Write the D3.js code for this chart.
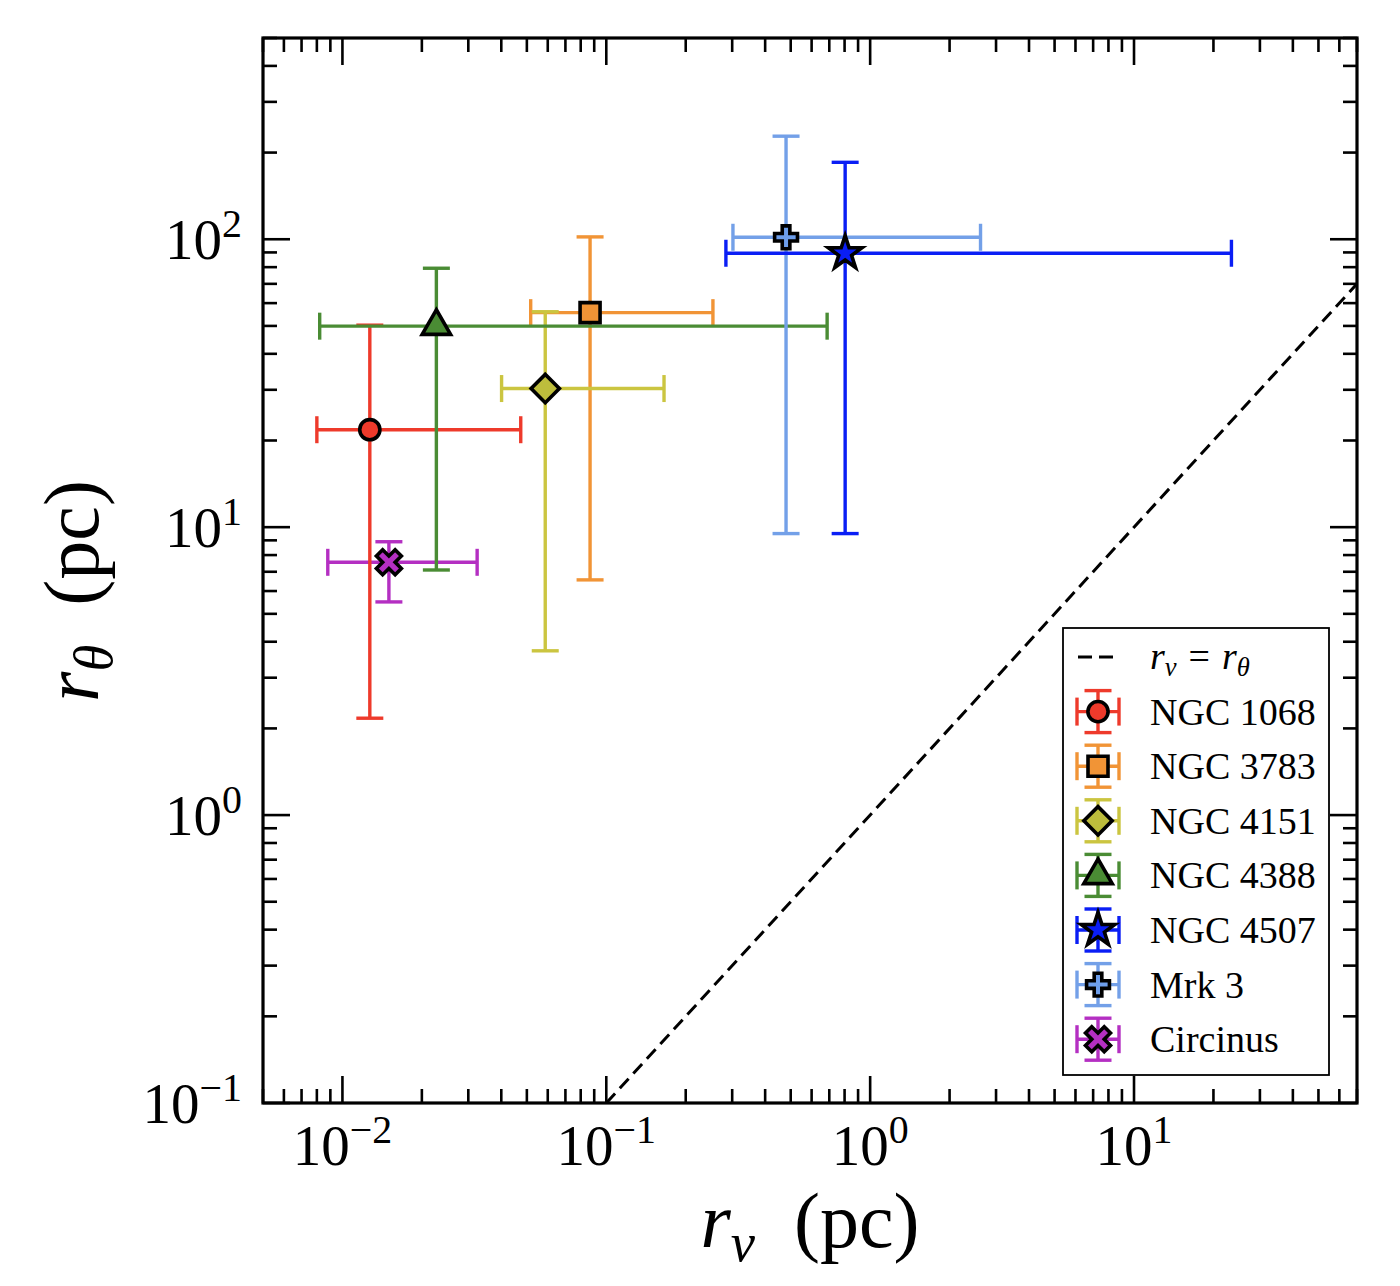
<!DOCTYPE html>
<html>
<head>
<meta charset="utf-8">
<script src="https://cdn.jsdelivr.net/npm/d3@7"></script>
<style>
  body { margin: 0; background: #fff; }
  svg { display: block; font-family: "Liberation Serif", "DejaVu Serif", serif; }
</style>
</head>
<body>
<div id="chart"></div>
<script>
// Sources, in legend order
const names   = ['NGC 1068', 'NGC 3783', 'NGC 4151', 'NGC 4388', 'NGC 4507', 'Mrk 3', 'Circinus'];
const rv      = [0.0127, 0.0868, 0.0587, 0.0227, 0.804, 0.48, 0.0150];
const rvLow   = [0.0080, 0.0517, 0.0401, 0.0082, 0.284, 0.302, 0.0088];
const rvHigh  = [0.0474, 0.2536, 0.1655, 0.687, 23.4, 2.62, 0.0324];
const rt      = [21.8, 55.6, 30.3, 49.9, 89.4, 101.6, 7.55];
const rtLow   = [2.17, 6.56, 3.72, 7.1, 9.5, 9.5, 5.5];
const rtHigh  = [50.3, 101.9, 56.0, 79.3, 185, 228, 8.9];
const markers = ['circle', 'square', 'diamond', 'triangle', 'star', 'plus', 'x'];
const lineColors = ['#ee3a2b', '#f19436', '#cbc540', '#4a8c34', '#0a1ef5', '#73a0e8', '#b42fc2'];
const fillColors = ['#ee3a2b', '#f19436', '#bdbd3c', '#4a8c34', '#0a1ef5', '#6d9eeb', '#b42fc2'];

// draw order of the error bars (bottom to top)
const drawOrder = [6, 0, 1, 2, 3, 5, 4];

const xMajor = [1e-2, 1e-1, 1e0, 1e1];
const yMajor = [1e-1, 1e0, 1e1, 1e2];
const xExp = ['−2', '−1', '0', '1'];
const yExp = ['−1', '0', '1', '2'];
const xDomain = [0.005, 70];
const yDomain = [0.1, 500];
const diagonal = [0.1, 70];

const W = 1400, H = 1286;
const margin = {left: 263, right: 43, top: 38, bottom: 183};
const pw = W - margin.left - margin.right;
const ph = H - margin.top - margin.bottom;

const svg = d3.select('#chart').append('svg')
    .attr('width', W)
    .attr('height', H);

const x = d3.scaleLog().domain(xDomain).range([margin.left, margin.left + pw]);
const y = d3.scaleLog().domain(yDomain).range([margin.top + ph, margin.top]);

function minorTicks(scale) {
    const [a, b] = scale.domain();
    const out = [];
    for (let e = Math.floor(Math.log10(a)); e <= Math.ceil(Math.log10(b)); e++) {
        for (let m = 2; m <= 9; m++) {
            const v = m * Math.pow(10, e);
            if (v >= a * 0.999 && v <= b * 1.001) out.push(v);
        }
    }
    return out;
}

const plot = svg.append('g');
plot.append('clipPath').attr('id', 'clip')
    .append('rect')
    .attr('x', margin.left).attr('y', margin.top)
    .attr('width', pw).attr('height', ph);

// y = x reference line
plot.append('line')
    .attr('clip-path', 'url(#clip)')
    .attr('x1', x(diagonal[0])).attr('y1', y(diagonal[0]))
    .attr('x2', x(diagonal[1])).attr('y2', y(diagonal[1]))
    .attr('stroke', '#000')
    .attr('stroke-width', 3)
    .attr('stroke-dasharray', '13,7');

// Error bars
const capHalf = 13.5;
const barW = 3.4;
const ebar = plot.append('g').attr('stroke-width', barW).attr('fill', 'none');
drawOrder.forEach(i => {
    const g = ebar.append('g').attr('stroke', lineColors[i]);
    const cx = x(rv[i]), cy = y(rt[i]);
    g.append('line').attr('x1', x(rvLow[i])).attr('x2', x(rvHigh[i])).attr('y1', cy).attr('y2', cy);
    g.append('line').attr('x1', cx).attr('x2', cx).attr('y1', y(rtLow[i])).attr('y2', y(rtHigh[i]));
    [rvLow[i], rvHigh[i]].forEach(v => {
        g.append('line').attr('x1', x(v)).attr('x2', x(v)).attr('y1', cy - capHalf).attr('y2', cy + capHalf);
    });
    [rtLow[i], rtHigh[i]].forEach(v => {
        g.append('line').attr('x1', cx - capHalf).attr('x2', cx + capHalf).attr('y1', y(v)).attr('y2', y(v));
    });
});

// Marker shapes
function markerPath(kind) {
    switch (kind) {
        case 'circle':   return {d: d3.symbol(d3.symbolCircle, 320)(), rot: 0};
        case 'square':   return {d: d3.symbol(d3.symbolSquare, 400)(), rot: 0};
        case 'diamond':  return {d: d3.symbol(d3.symbolSquare, 400)(), rot: 45};
        case 'triangle': return {d: d3.symbol(d3.symbolTriangle, 350)(), rot: 0};
        case 'star':     return {d: d3.symbol(d3.symbolStar, 350)(), rot: 0};
        case 'plus':     return {d: d3.symbol(d3.symbolCross, 290)(), rot: 0};
        case 'x':        return {d: d3.symbol(d3.symbolCross, 390)(), rot: 45};
    }
}

function drawMarker(sel, i, px, py) {
    const m = markerPath(markers[i]);
    sel.append('path')
        .attr('d', m.d)
        .attr('transform', `translate(${px},${py}) rotate(${m.rot})`)
        .attr('fill', fillColors[i])
        .attr('stroke', '#000')
        .attr('stroke-width', 3.6)
        .attr('stroke-linejoin', 'miter');
}

const markG = plot.append('g');
drawOrder.forEach(i => drawMarker(markG, i, x(rv[i]), y(rt[i])));

// Ticks (inward, on all four sides)
const tickW = 2.6;
function tickLines(vals, scale, horizontal, len) {
    const g = svg.append('g').attr('stroke', '#000').attr('stroke-width', tickW);
    vals.forEach(v => {
        const p = scale(v);
        if (horizontal) {
            g.append('line').attr('x1', p).attr('x2', p)
                .attr('y1', margin.top + ph).attr('y2', margin.top + ph - len);
            g.append('line').attr('x1', p).attr('x2', p)
                .attr('y1', margin.top).attr('y2', margin.top + len);
        } else {
            g.append('line').attr('y1', p).attr('y2', p)
                .attr('x1', margin.left).attr('x2', margin.left + len);
            g.append('line').attr('y1', p).attr('y2', p)
                .attr('x1', margin.left + pw).attr('x2', margin.left + pw - len);
        }
    });
}
tickLines(xMajor, x, true, 27);
tickLines(minorTicks(x), x, true, 14);
tickLines(yMajor, y, false, 27);
tickLines(minorTicks(y), y, false, 14);

// Frame
svg.append('rect')
    .attr('x', margin.left).attr('y', margin.top)
    .attr('width', pw).attr('height', ph)
    .attr('fill', 'none')
    .attr('stroke', '#000')
    .attr('stroke-width', 3.2);

// Tick labels as 10^n
const tickFont = 57;
function powLabel(sel, exp) {
    sel.append('tspan').text('10');
    sel.append('tspan')
        .attr('dy', -22)
        .attr('font-size', tickFont * 0.7)
        .text(exp);
}
xMajor.forEach((v, k) => {
    const t = svg.append('text')
        .attr('x', x(v)).attr('y', margin.top + ph + 62)
        .attr('text-anchor', 'middle')
        .attr('font-size', tickFont);
    powLabel(t, xExp[k]);
});
yMajor.forEach((v, k) => {
    const t = svg.append('text')
        .attr('x', margin.left - 21).attr('y', y(v) + 20)
        .attr('text-anchor', 'end')
        .attr('font-size', tickFont);
    powLabel(t, yExp[k]);
});

// Axis labels
const labelFont = 78;
function mathLabel(sel, sub) {
    sel.append('tspan').attr('font-style', 'italic').text('r');
    sel.append('tspan').attr('font-style', 'italic')
        .attr('font-size', labelFont * 0.7).attr('dy', 14).text(sub);
    sel.append('tspan').attr('dy', -14).text('\u2002(pc)');
}
mathLabel(svg.append('text')
    .attr('x', margin.left + pw / 2).attr('y', 1247)
    .attr('text-anchor', 'middle')
    .attr('font-size', labelFont), 'v');
mathLabel(svg.append('text')
    .attr('transform', 'translate(98,591) rotate(-90)')
    .attr('text-anchor', 'middle')
    .attr('font-size', labelFont), 'θ');

// Legend
const lg = svg.append('g');
lg.append('rect')
    .attr('x', 1063).attr('y', 628)
    .attr('width', 266).attr('height', 447)
    .attr('fill', '#fff')
    .attr('stroke', '#000')
    .attr('stroke-width', 1.8);

const legendFont = 38;
const rowY0 = 657, rowStep = 54.6, mx = 1098, tx = 1150;
lg.append('line')
    .attr('x1', 1078).attr('x2', 1113)
    .attr('y1', rowY0).attr('y2', rowY0)
    .attr('stroke', '#000').attr('stroke-width', 3)
    .attr('stroke-dasharray', '14,7');
const eqText = lg.append('text')
    .attr('x', tx).attr('y', rowY0 + 12)
    .attr('font-size', legendFont);
eqText.append('tspan').attr('font-style', 'italic').text('r');
eqText.append('tspan').attr('font-style', 'italic').attr('font-size', legendFont * 0.7).attr('dy', 7).text('v');
eqText.append('tspan').attr('dy', -7).attr('dx', 12).text('=');
eqText.append('tspan').attr('dx', 12).attr('font-style', 'italic').text('r');
eqText.append('tspan').attr('font-style', 'italic').attr('font-size', legendFont * 0.7).attr('dy', 7).text('θ');

names.forEach((name, i) => {
    const ry = rowY0 + rowStep * (i + 1);
    const g = lg.append('g').attr('stroke', lineColors[i]).attr('stroke-width', barW);
    g.append('line').attr('x1', 1077).attr('x2', 1119).attr('y1', ry).attr('y2', ry);
    g.append('line').attr('x1', mx).attr('x2', mx).attr('y1', ry - 21).attr('y2', ry + 21);
    [1077, 1119].forEach(px => g.append('line').attr('x1', px).attr('x2', px).attr('y1', ry - 14).attr('y2', ry + 14));
    [ry - 21, ry + 21].forEach(py => g.append('line').attr('x1', mx - 13.5).attr('x2', mx + 13.5).attr('y1', py).attr('y2', py));
    drawMarker(lg, i, mx, ry);
    lg.append('text')
        .attr('x', tx).attr('y', ry + 13)
        .attr('font-size', legendFont)
        .text(name);
});
</script>
</body>
</html>
